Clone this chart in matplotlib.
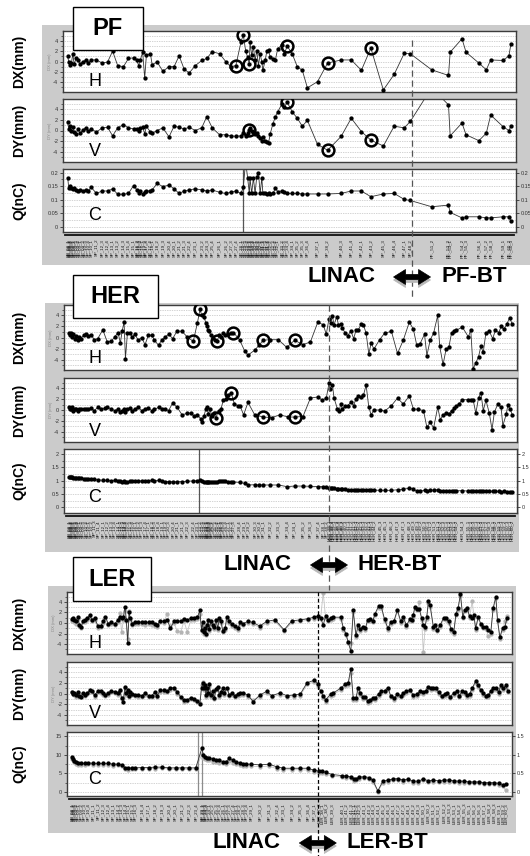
import matplotlib
matplotlib.use("Agg")
import numpy as np
import matplotlib.pyplot as plt
from matplotlib.patches import Rectangle, Polygon
from matplotlib.lines import Line2D
from matplotlib.ticker import FuncFormatter
from matplotlib.transforms import blended_transform_factory

plt.rcParams['font.family'] = ['Liberation Sans', 'DejaVu Sans']
plt.rcParams['axes.unicode_minus'] = False

W, H = 530, 856

# ---------------- PF ----------------
pf_s = [200, 203, 207, 211, 215, 219, 225, 230, 236, 245,
        253, 260, 270, 285, 302, 318, 333, 348, 365, 380,
        395, 405, 410, 415, 422, 428, 433, 445, 450, 465,
        482, 500, 515, 530, 545, 560, 578, 597, 612, 628,
        650, 668, 683, 698, 713, 720, 727, 733, 738, 740,
        745, 750, 755, 760, 765, 770, 775, 778, 785, 790,
        795, 800, 808, 815, 822, 835, 842, 850, 865, 880,
        895, 910, 940, 970, 1010, 1040, 1070, 1098, 1135, 1167,
        1197, 1215, 1278, 1328, 1333, 1368, 1380, 1418, 1440, 1453,
        1490, 1507, 1513]
pf_dx = [1.0, -0.1, -0.6, -0.3, 1.5, -0.5, 0.6, 0.3, -0.5, 0.0,
         0.2, -0.2, 0.3, 0.3, -0.3, -0.1, 2.0, -0.8, -1.0, 0.6,
         0.7, 0.2, -0.8, 0.3, 1.8, -3.2, 1.2, 1.5, -0.6, -0.1,
         -1.9, -1.0, -1.0, 1.1, -1.5, -2.2, -0.8, 0.2, 0.6, 1.9,
         1.5, 0.0, -1.0, -0.8, 3.7, 5.2, 2.1, 0.8, -0.5, 3.7,
         1.2, 2.8, 0.3, 2.1, -0.8, 1.5, -0.1, -1.7, 0.2, 2.1,
         2.2, 0.8, 0.5, 0.2, 2.5, 3.2, 1.5, 3.0, 1.5, -1.0,
         -1.7, -5.1, -3.9, -0.3, 0.3, 0.3, -1.7, 2.6, -5.5, -2.5,
         1.6, 1.5, -1.6, -2.7, 1.8, 4.4, 1.8, -0.3, -1.6, 0.3,
         0.2, 1.1, 3.4]
pf_dy = [1.5, 0.3, 0.8, 0.0, 0.6, -0.3, -0.6, 0.3, -0.5, 0.1,
         0.5, -0.1, 0.3, -0.3, 0.5, 0.6, -1.0, 0.5, 1.1, 0.5,
         0.3, 0.2, 0.0, 0.4, 0.6, -0.6, 0.8, -0.3, -0.5, 0.0,
         0.5, -1.2, 0.8, 0.6, 0.3, 0.6, 0.0, 0.5, 2.6, 0.5,
         -0.8, -0.8, -1.0, -1.1, -1.0, -0.5, -1.0, -0.5, 0.1, 0.5,
         0.0, -0.3, -0.6, -0.5, -1.0, -1.4, -1.9, -1.3, -1.9, -2.1,
         -2.3, -0.6, 1.3, 2.5, 3.5, 5.0, 4.4, 5.3, 3.5, 2.3,
         0.8, 1.9, -2.6, -3.7, -1.1, 2.3, -0.2, -1.8, -2.9, 0.8,
         0.5, 1.7, 8.0, 4.8, -1.0, 1.4, -0.8, -1.9, -0.5, 2.9,
         0.7, 0.0, 0.8]
pf_q = [0.181, 0.142, 0.152, 0.144, 0.140, 0.142, 0.136, 0.132, 0.136, 0.132,
        0.136, 0.132, 0.145, 0.123, 0.132, 0.132, 0.140, 0.120, 0.120, 0.123,
        0.152, 0.136, 0.123, 0.132, 0.120, 0.130, 0.132, 0.132, 0.136, 0.160,
        0.148, 0.154, 0.140, 0.123, 0.132, 0.136, 0.140, 0.136, 0.132, 0.136,
        0.127, 0.123, 0.127, 0.132, 0.123, 0.145, 0.240, 0.180, 0.123, 0.180,
        0.123, 0.181, 0.123, 0.185, 0.200, 0.123, 0.181, 0.125, 0.123, 0.120,
        0.123, 0.120, 0.123, 0.142, 0.130, 0.132, 0.127, 0.123, 0.123, 0.123,
        0.121, 0.121, 0.121, 0.121, 0.123, 0.132, 0.132, 0.111, 0.121, 0.123,
        0.101, 0.097, 0.074, 0.080, 0.053, 0.033, 0.037, 0.037, 0.033, 0.033,
        0.037, 0.037, 0.021]
pf_ring_dx = [698, 720, 738, 850, 970, 1098]
pf_ring_dy = [738, 850, 970, 1098]

# ---------------- HER ----------------
her_s_dx = [205, 208, 212, 215, 218, 222, 226, 230, 235, 240,
            248, 255, 262, 270, 280, 290, 305, 318, 330, 340,
            350, 357, 362, 368, 372, 378, 385, 392, 400, 410,
            420, 430, 440, 450, 458, 470, 480, 490, 500, 512,
            525, 540, 555, 573, 585, 593, 598, 605, 610, 613,
            616, 620, 625, 630, 637, 643, 650, 655, 660, 667,
            675, 685, 692, 710, 725, 735, 755, 768, 780, 800,
            825, 850, 873, 898, 920, 942, 958, 967, 975, 980,
            985, 990, 998, 1003, 1010, 1015, 1022, 1030, 1040, 1048,
            1055, 1062, 1070, 1077, 1085, 1093, 1100, 1108, 1125, 1140,
            1160, 1178, 1195, 1213, 1225, 1235, 1245, 1258, 1265, 1275,
            1285, 1297, 1303, 1313, 1322, 1330, 1338, 1346, 1352, 1370,
            1388, 1395, 1402, 1410, 1418, 1425, 1432, 1440, 1450, 1460,
            1468, 1478, 1485, 1493, 1502, 1510, 1518]
her_dx = [0.8, 0.4, 0.9, 0.1, 0.6, -0.3, 0.3, -0.4, 0.1, -0.2,
          0.4, 0.6, 0.3, 0.5, -0.4, -0.2, 1.4, -0.8, -0.7, 0.1,
          0.9, -1.0, 1.1, 2.8, -3.9, 0.9, 0.8, 0.1, 0.6, -0.5,
          0.0, -1.3, 0.4, 0.4, -0.5, -1.4, -0.4, 0.1, 0.6, -0.2,
          1.2, 1.1, 0.1, -0.7, 2.6, 5.1, 4.0, 3.8, 2.6, 2.1,
          1.4, 1.1, 0.4, 0.0, -0.4, -0.7, 0.4, 0.1, 0.8, 0.4,
          0.6, 0.9, 0.9, -0.4, -2.4, -3.2, -2.3, -1.4, -0.5, -0.4,
          -0.4, -1.8, -0.5, -1.3, -0.8, 2.8, 2.3, 0.6, 3.4, 2.6,
          3.9, 2.3, 3.8, 2.3, 2.4, 1.7, 0.9, 0.3, 1.2, -0.2,
          1.3, 1.4, 2.4, 2.3, 0.8, -3.0, -1.0, -2.1, -0.4, 0.8,
          1.1, -2.9, -0.5, 2.8, 1.5, -1.4, -1.1, 0.6, -3.3, -0.4,
          0.8, 4.0, -1.6, -4.9, -2.1, -1.8, 0.8, 1.1, 1.3, 1.9,
          0.1, 1.4, -5.7, -4.6, -3.5, -1.6, -2.7, 0.9, 1.1, -0.2,
          1.3, 0.9, 2.0, 1.5, 2.4, 3.6, 2.4]
her_q = [1.15, 1.14, 1.13, 1.14, 1.12, 1.11, 1.12, 1.10, 1.11, 1.09,
         1.08, 1.07, 1.06, 1.05, 1.05, 1.03, 1.02, 1.01, 1.00, 1.01,
         0.99, 0.98, 0.97, 0.98, 0.94, 0.97, 0.98, 0.99, 1.00, 1.00,
         0.99, 1.00, 1.00, 1.01, 1.00, 1.01, 0.99, 0.96, 0.97, 0.96,
         0.96, 0.97, 0.98, 0.99, 1.00, 1.01, 0.98, 0.96, 0.95, 0.95,
         0.94, 0.95, 0.94, 0.95, 0.96, 0.97, 0.99, 1.00, 0.99, 0.98,
         0.97, 0.96, 0.95, 0.94, 0.90, 0.84, 0.85, 0.84, 0.84, 0.84,
         0.84, 0.78, 0.80, 0.80, 0.79, 0.78, 0.78, 0.77, 0.74, 0.72,
         0.71, 0.72, 0.70, 0.69, 0.70, 0.68, 0.69, 0.67, 0.66, 0.65,
         0.65, 0.66, 0.66, 0.65, 0.64, 0.66, 0.64, 0.65, 0.64, 0.64,
         0.64, 0.66, 0.68, 0.72, 0.70, 0.60, 0.61, 0.64, 0.63, 0.64,
         0.65, 0.66, 0.63, 0.62, 0.62, 0.63, 0.62, 0.61, 0.62, 0.63,
         0.61, 0.62, 0.61, 0.60, 0.61, 0.60, 0.61, 0.60, 0.61, 0.60,
         0.60, 0.60, 0.59, 0.60, 0.59, 0.59, 0.58]
her_s_dy = [205, 208, 212, 215, 218, 222, 226, 230, 235, 240,
            248, 255, 262, 270, 280, 290, 300, 310, 318, 330,
            340, 350, 357, 362, 368, 372, 378, 385, 392, 400,
            410, 420, 430, 440, 450, 458, 470, 480, 490, 500,
            512, 525, 540, 555, 565, 575, 585, 595, 600, 605,
            610, 613, 618, 622, 628, 633, 640, 648, 655, 662,
            670, 677, 685, 695, 705, 712, 722, 735, 755, 780,
            805, 830, 855, 873, 898, 920, 942, 955, 967, 975,
            978, 985, 990, 1000, 1005, 1010, 1015, 1022, 1030, 1040,
            1048, 1055, 1062, 1070, 1077, 1085, 1093, 1100, 1108, 1125,
            1140, 1160, 1178, 1195, 1213, 1225, 1240, 1255, 1265, 1275,
            1285, 1297, 1305, 1313, 1322, 1330, 1338, 1346, 1352, 1360,
            1370, 1388, 1395, 1402, 1410, 1418, 1425, 1432, 1440, 1450,
            1458, 1465, 1475, 1485, 1490, 1500, 1505, 1512, 1518]
her_dy = [0.5, 0.2, 0.1, 0.5, -0.1, 0.2, 0.1, -0.1, 0.1, 0.2,
          0.2, 0.1, 0.2, 0.3, -0.1, 0.5, 0.1, 0.3, 0.5, 0.2,
          -0.1, 0.1, -0.4, -0.1, 0.2, -0.3, 0.2, 0.3, -0.1, 0.2,
          0.5, -0.1, 0.2, 0.3, -0.1, 0.1, 0.5, 0.2, 0.1, -0.1,
          1.3, 0.5, -0.9, -0.6, -0.6, -1.1, -0.9, -1.6, -2.2, -1.1,
          0.2, 0.5, -0.8, 0.2, -1.1, -0.6, -1.4, -0.1, 0.2, 1.8,
          2.1, 2.7, 3.2, 1.1, 0.8, 0.7, -0.9, 1.4, -0.9, -1.3,
          -1.4, -0.9, -1.3, -1.3, -1.2, 2.2, 2.4, 1.8, 2.2, 4.9,
          3.9, 4.7, 2.2, 0.2, -0.1, 1.1, 0.2, 0.7, 0.8, 1.4,
          0.8, 2.1, 2.6, 2.4, 2.7, 4.6, 0.5, -0.9, 0.0, 0.0,
          -0.2, 0.8, 2.2, 1.1, 2.6, 0.2, 0.1, -0.1, -3.2, -2.3,
          -3.3, 0.5, -1.8, -0.9, -0.6, -0.8, -0.1, 0.3, 0.7, 1.1,
          1.9, 1.9, 1.8, 1.9, -0.6, 2.2, 3.2, -0.1, 1.8, -0.6,
          -3.6, -0.4, 1.1, 0.5, -2.9, -0.8, 0.9, 0.1, -0.9]
her_ring_dx = [573, 593, 643, 692, 780, 873]
her_ring_dy = [640, 685, 780, 873]

# ---------------- LER ----------------
ler_s_dx = [212, 216, 220, 225, 230, 235, 240, 245, 250, 258,
            265, 272, 280, 290, 298, 305, 312, 320, 330, 340,
            348, 355, 360, 365, 370, 374, 378, 382, 386, 392,
            400, 410, 420, 430, 440, 450, 458, 465, 475, 485,
            495, 505, 515, 525, 535, 545, 555, 565, 575, 585,
            592, 597, 600, 603, 607, 610, 613, 617, 620, 625,
            630, 635, 640, 645, 650, 655, 660, 667, 672, 680,
            687, 695, 705, 712, 720, 735, 750, 770, 790, 815,
            842, 865, 890, 912, 930, 942, 950, 958, 965, 972,
            980, 988, 1010, 1018, 1025, 1032, 1040, 1047, 1055, 1062,
            1068, 1075, 1083, 1090, 1098, 1105, 1112, 1122, 1130, 1140,
            1150, 1158, 1168, 1178, 1188, 1195, 1205, 1215, 1220, 1225,
            1230, 1237, 1243, 1250, 1255, 1260, 1265, 1270, 1275, 1285,
            1290, 1297, 1305, 1315, 1322, 1330, 1338, 1345, 1352, 1358,
            1365, 1372, 1378, 1385, 1392, 1400, 1405, 1410, 1418, 1425,
            1432, 1440, 1448, 1455, 1462, 1470, 1475, 1482, 1490, 1497,
            1503]
ler_dx = [0.7, 0.9, 0.6, 0.3, 1.2, -0.4, -0.8, 0.3, 0.6, 0.9,
          1.5, 0.6, 0.9, -0.6, -0.6, 0.3, 1.2, -0.1, 0.1, -0.2,
          0.6, 1.2, 0.9, 1.1, 3.1, 0.6, -3.9, 2.0, 0.9, -0.1,
          0.2, 0.1, 0.2, 0.1, 0.1, 0.1, -0.1, -0.4, 0.4, 0.3,
          0.6, -1.0, 0.3, 0.3, 0.4, 0.7, 0.6, 0.9, 0.9, 1.1,
          2.4, -1.3, 0.1, -1.7, -1.0, -2.0, -0.4, 0.6, -1.2, 0.3,
          -0.4, -0.8, 0.6, -1.0, 0.9, 0.3, -1.5, -1.0, 1.1, 0.3,
          -0.2, -0.6, -1.0, 0.1, -0.1, 0.3, 0.1, -0.6, 0.3, 0.6,
          -1.3, 0.4, 0.6, 0.8, 1.1, 1.3, 1.0, -0.4, 1.3, 0.6,
          0.9, 1.1, 1.1, -1.0, -2.0, -3.6, -5.4, 2.4, -2.3, -0.4,
          -1.2, -0.7, -1.0, 0.6, 0.7, 0.4, 1.8, 3.2, 3.2, 0.7,
          -1.0, 0.1, 0.4, 2.5, 0.3, 1.1, -0.4, 0.7, 0.6, 1.5,
          3.1, 2.7, 2.6, 0.9, -0.4, -0.8, 1.1, 4.1, 3.4, -0.8,
          -0.4, -1.3, -0.4, 1.0, 0.9, 0.3, -1.2, -1.8, 1.8, 2.8,
          5.5, 1.2, 2.5, 2.8, 1.3, 0.9, 1.5, -1.0, 1.2, -0.1,
          -0.7, -0.8, -1.3, -1.8, 2.8, 5.0, 0.6, -2.7, -1.0, -0.7,
          0.9]
ler_dx_2 = [0.3, 0.5, 0.2, -0.1, 0.8, -0.6, -1.0, 0.1, 0.2, 0.5,
            1.0, 0.3, 0.6, -0.9, -0.8, 0.0, 0.9, -0.4, -0.2, -0.4,
            0.2, 1.9, -1.8, 0.5, 2.2, 0.3, -3.0, 2.2, 0.5, -0.4,
            -0.1, -0.2, -0.1, -0.3, -0.2, -0.3, -0.5, -0.7, 0.1, 0.0,
            1.8, -0.5, 0.0, -1.5, -1.7, 0.3, -1.7, 0.5, 0.5, 0.8,
            1.8, -1.6, -0.3, -2.0, -1.3, -2.2, -0.8, 0.2, -1.5, 0.0,
            -0.7, -1.1, 0.3, -1.3, 0.6, 0.0, -1.8, -1.3, 0.8, 0.0,
            -0.5, -0.9, -1.3, -0.2, -0.4, 0.0, -0.2, -0.9, 0.0, 0.3,
            -1.5, 0.1, 0.3, 0.5, 0.8, 1.0, 0.7, 5.8, 1.0, 0.3,
            0.6, 0.8, 0.8, -1.3, -2.3, -3.8, -3.9, 2.0, -2.6, -0.7,
            -1.5, -1.0, -1.3, 0.3, 0.4, 0.1, 1.5, 2.9, 2.9, 0.4,
            -1.3, -0.2, 0.1, 2.2, 0.0, 0.8, -0.7, 0.4, 0.3, 1.2,
            2.8, 2.4, 4.0, 0.6, -5.6, -1.1, 0.8, 3.8, 3.1, -1.1,
            -0.7, -1.6, -0.7, 0.7, 0.6, 0.0, -1.5, -2.1, 1.5, 2.5,
            5.2, 0.9, 2.2, 2.5, 1.0, 4.2, 1.2, -1.3, 0.9, -0.4,
            -1.0, -1.1, -2.5, -2.1, 2.5, 4.7, 0.3, -3.0, -1.3, 0.3,
            1.3]
ler_s_dy = [212, 216, 220, 225, 230, 235, 240, 245, 250, 258,
            265, 272, 280, 290, 298, 305, 312, 320, 330, 340,
            348, 355, 360, 365, 370, 374, 378, 382, 386, 392,
            400, 410, 420, 430, 440, 450, 458, 465, 475, 485,
            495, 505, 515, 525, 535, 545, 555, 565, 575, 585,
            592, 597, 600, 603, 607, 610, 613, 617, 620, 625,
            630, 635, 640, 645, 650, 655, 660, 665, 672, 680,
            687, 695, 705, 712, 720, 735, 750, 770, 790, 805,
            830, 850, 870, 890, 910, 932, 942, 950, 958, 965,
            980, 988, 1010, 1022, 1032, 1040, 1047, 1055, 1062, 1068,
            1075, 1083, 1090, 1098, 1105, 1112, 1122, 1130, 1140, 1150,
            1158, 1168, 1178, 1188, 1195, 1205, 1215, 1225, 1235, 1245,
            1255, 1262, 1270, 1278, 1285, 1292, 1300, 1310, 1318, 1325,
            1335, 1345, 1355, 1362, 1370, 1378, 1385, 1392, 1400, 1410,
            1418, 1425, 1432, 1440, 1448, 1455, 1462, 1470, 1478, 1485,
            1492, 1500, 1505]
ler_dy = [0.2, -0.1, 0.1, -0.3, 0.3, -0.4, -0.6, 0.1, -0.3, 0.1,
          0.6, 0.4, -0.3, 0.5, 0.4, 0.1, -0.3, 0.1, 0.5, 0.3,
          0.1, 0.7, -0.9, -1.5, 1.3, 0.1, 0.7, -0.4, 0.3, -0.1,
          -0.3, -0.3, -0.4, 0.1, -0.4, -0.4, 0.3, -0.4, 0.6, 0.6,
          0.5, 1.0, 1.1, 0.3, -0.6, -1.3, -1.2, -0.8, -1.0, -1.4,
          -2.0, 1.0, 2.0, 1.0, 1.5, -0.3, 1.0, 0.1, 1.7, -0.3,
          0.5, -0.9, 0.9, 1.3, -0.3, 0.3, 1.0, 0.1, 1.1, -0.3,
          0.1, -0.4, -0.1, 0.1, 0.1, -0.3, -1.5, -0.3, 0.4, -0.4,
          0.1, -0.4, -0.3, -0.1, 2.0, 2.5, 1.8, 0.5, -0.4, -1.2,
          -0.1, 0.1, 1.0, 1.7, 2.0, 4.6, -0.8, -0.8, 1.1, 0.1,
          -0.6, -0.6, -1.4, -1.2, -0.9, -0.8, -0.1, 0.4, 0.5, 1.1,
          -0.4, -0.9, -0.1, -0.4, 0.1, 0.4, 0.7, -0.3, -0.1, 0.4,
          0.3, 0.5, 1.3, 1.0, 1.1, 1.0, 0.3, -0.4, -0.1, 0.1,
          -0.6, 0.1, 0.4, -0.4, 0.4, 0.2, -0.3, -0.1, 1.0, 2.3,
          1.5, 0.7, 0.1, -0.4, -0.3, 0.5, 1.0, 1.0, 0.3, 1.5,
          1.0, 1.5, 0.5]
ler_dy_2 = [0.3, 0.1, -0.3, -0.6, 0.1, -0.7, -0.2, -0.2, -0.5, -0.1,
            0.3, 0.2, -0.6, 0.2, 0.1, -0.3, -0.5, -0.2, 0.2, 0.1,
            -0.2, 0.4, -1.1, -0.8, 1.0, -0.3, 0.3, -0.7, 0.0, -0.3,
            -0.5, -0.6, -0.7, -0.2, -0.6, -0.7, 0.0, -0.6, 0.3, 0.3,
            0.2, 0.7, 0.8, 0.0, -0.9, -1.5, -1.4, -1.0, -1.3, -1.6,
            -1.7, 1.6, 2.2, 0.6, 1.2, -0.6, 0.7, -0.2, 1.4, -0.6,
            0.2, -1.1, 0.6, 1.0, -0.6, 0.0, 0.7, -0.2, 0.8, -0.5,
            -0.2, -0.6, -0.4, -0.2, -0.2, -0.6, -1.3, -0.6, 0.1, -0.7,
            -0.2, -0.7, -0.6, -0.4, 1.7, 2.2, 1.4, 0.2, -0.8, -1.5,
            -0.4, -0.2, 0.7, 1.4, 1.6, 3.8, -1.2, -1.3, 0.7, -0.3,
            -1.0, -0.9, -1.8, -1.5, -1.1, -1.2, -0.4, 0.1, 0.2, 0.8,
            -0.7, -1.2, -0.4, -0.7, -0.2, 0.1, 0.4, -0.6, -0.4, 0.1,
            0.0, 0.2, 1.0, 0.6, 0.8, 0.7, 0.0, -0.7, -0.4, -0.2,
            -0.9, -0.2, 0.1, -0.7, 0.1, -0.1, -0.6, -0.4, 0.7, 2.0,
            1.2, 0.4, -0.2, -0.7, -0.6, 0.2, 0.7, 0.7, 0.0, 1.2,
            0.7, 1.2, 0.2]
ler_s_q = [212, 215, 220, 225, 230, 240, 250, 260, 275, 290,
           305, 320, 335, 350, 360, 370, 380, 390, 400, 420,
           440, 460, 480, 500, 520, 540, 560, 580, 598, 602,
           607, 612, 620, 630, 640, 650, 660, 670, 680, 690,
           700, 710, 720, 730, 745, 770, 797, 820, 840, 865,
           890, 912, 930, 945, 955, 965, 985, 1015, 1025, 1040,
           1048, 1055, 1065, 1080, 1095, 1105, 1120, 1135, 1150, 1165,
           1180, 1195, 1210, 1225, 1240, 1255, 1270, 1285, 1300, 1315,
           1330, 1345, 1360, 1375, 1390, 1405, 1420, 1435, 1450, 1465,
           1480, 1490, 1500]
ler_q = [9.5, 8.9, 8.4, 8.0, 7.7, 7.7, 7.7, 7.9, 7.7, 7.7,
         7.7, 7.7, 7.5, 7.5, 7.3, 6.6, 6.4, 6.5, 6.5, 6.6,
         6.6, 6.7, 6.7, 6.5, 6.5, 6.5, 6.5, 6.5, 11.8, 10.0,
         9.5, 9.3, 9.1, 8.9, 8.6, 8.5, 8.2, 8.2, 9.1, 8.5,
         8.2, 7.7, 7.5, 7.5, 7.5, 7.3, 7.5, 6.8, 6.4, 6.4,
         6.4, 6.4, 5.9, 5.6, 5.6, 5.3, 4.7, 4.4, 4.3, 4.1,
         3.5, 3.6, 4.0, 4.1, 3.9, 3.2, 0.3, 2.9, 3.2, 3.5,
         3.6, 3.2, 3.5, 2.9, 2.9, 3.5, 3.0, 3.2, 3.0, 3.2,
         3.2, 3.0, 2.9, 2.9, 2.7, 2.7, 2.7, 2.5, 2.5, 2.5,
         2.3, 2.0, 2.1]
ler_q_2 = [9.0, 8.5, 8.0, 7.6, 7.4, 7.3, 7.4, 7.5, 7.3, 7.4,
           7.3, 7.4, 7.1, 7.2, 6.9, 6.2, 6.0, 6.1, 6.2, 6.2,
           6.3, 6.3, 6.4, 6.2, 6.1, 6.2, 6.1, 6.2, 10.2, 9.2,
           8.8, 8.6, 8.5, 8.2, 8.0, 7.9, 7.7, 7.6, 8.4, 7.9,
           7.6, 7.2, 7.0, 7.0, 7.0, 6.8, 7.0, 6.3, 6.0, 6.0,
           6.0, 5.9, 5.5, 5.2, 5.2, 4.9, 4.3, 4.0, 3.9, 3.7,
           3.0, 3.1, 3.6, 3.7, 3.5, 2.8, 0.1, 2.5, 2.8, 3.1,
           3.2, 2.8, 3.1, 2.5, 2.5, 3.1, 2.6, 2.8, 2.6, 2.8,
           2.8, 2.6, 2.5, 2.5, 2.3, 2.3, 2.3, 2.1, 2.1, 2.1,
           1.9, 1.6, 0.4]

# boundary LINAC / BT
pf_cut, her_cut, ler_cut = 1220, 975, 942


def bpm_names(s_list, cut, bt):
    names = []
    for i, s in enumerate(s_list):
        if s < cut:
            names.append("SP_%02d_%d" % (s // 25, i % 4 + 1))
        else:
            names.append("%s_%02d_%d" % (bt, s // 25, i % 3 + 1))
    return names


fig = plt.figure(figsize=(W / 100, H / 100), dpi=100)


def frect(x0, y0, x1, y1):
    return [x0 / W, 1 - y1 / H, (x1 - x0) / W, (y1 - y0) / H]


def draw_series(ax, s, v, col='black', lcol='#333333', z=3):
    ax.plot(s, v, '-', color=lcol, lw=0.6, zorder=z)
    ax.plot(s, v, 'o', color=col, ms=3.1, mew=0, zorder=z + 0.1)


def rings(ax, s, v, where):
    ys = [v[s.index(w)] for w in where]
    ax.plot(where, ys, 'o', mfc='none', mec='black', ms=8.5, mew=1.8, zorder=6)


def frame(ax):
    for sp in ax.spines.values():
        sp.set_color('#3c3c3c')
        sp.set_linewidth(1.0)
    ax.tick_params(axis='y', which='major', labelsize=4, length=2.5, width=0.6,
                   pad=1, colors='#333333')
    ax.tick_params(axis='y', which='minor', length=1.4, width=0.5, colors='#333333')


def orbit_axes(ax, xlim, ylab):
    ax.set_xlim(*xlim)
    ax.set_ylim(-5.9, 5.9)
    ax.set_yticks([-4, -2, 0, 2, 4])
    ax.set_yticks(range(-5, 6), minor=True)
    ax.grid(axis='y', which='both', color='#a8a8a8', lw=0.5, ls=(0, (1, 1.5)))
    ax.set_axisbelow(True)
    ax.tick_params(axis='x', bottom=False, labelbottom=False)
    ax.set_ylabel(ylab, fontsize=3, color='#888888', labelpad=1)
    frame(ax)


fmt = FuncFormatter(lambda v, p: "%g" % round(v, 3))


def q_axes(ax, xlim, ylim, major, minor, right_scale):
    ax.set_xlim(*xlim)
    ax.set_ylim(*ylim)
    ax.set_yticks(major)
    ax.set_yticks(minor, minor=True)
    ax.yaxis.set_major_formatter(fmt)
    ax.grid(axis='y', which='both', color='#a8a8a8', lw=0.5, ls=(0, (1, 1.5)))
    ax.set_axisbelow(True)
    frame(ax)
    ax2 = ax.twinx()
    ax2.set_ylim(ylim[0] * right_scale, ylim[1] * right_scale)
    ax2.set_yticks([m * right_scale for m in major])
    ax2.yaxis.set_major_formatter(fmt)
    ax2.tick_params(axis='y', labelsize=4, length=2.5, width=0.6, pad=1, colors='#333333')
    for sp in ax2.spines.values():
        sp.set_visible(False)


def double_arrow(xc, yc, col, z):
    # pixel outline of the <-> marker, centred on the boundary line
    tip, base, head, shaft = 18.5, 6.5, 7.5, 2.6
    pts = [(-tip, 0), (-base, head), (-base, shaft), (base, shaft), (base, head),
           (tip, 0), (base, -head), (base, -shaft), (-base, -shaft), (-base, -head)]
    xy = [((xc + dx) / W, yc + dy / H) for dx, dy in pts]
    fig.patches.append(Polygon(xy, closed=True, transform=fig.transFigure,
                               fc=col, ec=col, lw=0.5, zorder=z))


panels = [
    dict(name='PF', bt='PF-BT', gray=(42, 25, 530, 265), box=(73, 7, 143, 50),
         left=63, right=516, rows=[(31, 92), (99, 162), (169, 232)],
         text_y=277, dash=(40, 300), dash_col='#555555', dash_ls=(0, (5, 3)),
         xlim=(186, 1528), cut=pf_cut,
         s_dx=pf_s, dx=pf_dx, s_dy=pf_s, dy=pf_dy, s_q=pf_s, q=pf_q,
         qlim=(-0.019, 0.213), qmajor=[0, 0.05, 0.1, 0.15, 0.2],
         qminor=np.arange(0, 0.21, 0.025), qscale=1.0, qline=[720],
         ring_dx=pf_ring_dx, ring_dy=pf_ring_dy),
    dict(name='HER', bt='HER-BT', gray=(45, 303, 519, 552), box=(73, 275, 158, 318),
         left=64, right=517, rows=[(305, 370), (378, 442), (449, 513)],
         text_y=565, dash=(305, 590), dash_col='#555555', dash_ls=(0, (5, 3)),
         xlim=(190, 1532), cut=her_cut,
         s_dx=her_s_dx, dx=her_dx, s_dy=her_s_dy, dy=her_dy, s_q=her_s_dx, q=her_q,
         qlim=(-0.21, 2.19), qmajor=[0, 0.5, 1, 1.5, 2],
         qminor=np.arange(0, 2.01, 0.25), qscale=1.0, qline=[590],
         ring_dx=her_ring_dx, ring_dy=her_ring_dy),
    dict(name='LER', bt='LER-BT', gray=(48, 586, 516, 833), box=(73, 557, 151, 601),
         left=67, right=512, rows=[(592, 654), (662, 725), (732, 796)],
         text_y=843, dash=(592, 856), dash_col='black', dash_ls=(0, (3, 2)),
         xlim=(198, 1518), cut=ler_cut,
         s_dx=ler_s_dx, dx=ler_dx, s_dy=ler_s_dy, dy=ler_dy, s_q=ler_s_q, q=ler_q,
         dx2=ler_dx_2, dy2=ler_dy_2, q2=ler_q_2,
         qlim=(-1.1, 16.2), qmajor=[0, 5, 10, 15],
         qminor=np.arange(0, 15.1, 2.5), qscale=0.1, qline=[588, 598],
         ring_dx=[], ring_dy=[]),
]

for p in panels:
    # grey panel background and name box
    gx0, gy0, gx1, gy1 = p['gray']
    fig.patches.append(Rectangle((gx0 / W, 1 - gy1 / H), (gx1 - gx0) / W, (gy1 - gy0) / H,
                                 transform=fig.transFigure, fc='#cbcbcb', ec='none', zorder=-5))
    bx0, by0, bx1, by1 = p['box']
    fig.patches.append(Rectangle((bx0 / W, 1 - by1 / H), (bx1 - bx0) / W, (by1 - by0) / H,
                                 transform=fig.transFigure, fc='white', ec='black', lw=1.0, zorder=8))
    fig.text((bx0 + bx1) / 2 / W, 1 - (by0 + by1) / 2 / H, p['name'], ha='center', va='center',
             fontsize=17, fontweight='bold', zorder=9)

    axes = []
    for (y0, y1) in p['rows']:
        axes.append(fig.add_axes(frect(p['left'], y0, p['right'], y1)))
    ax_dx, ax_dy, ax_q = axes
    orbit_axes(ax_dx, p['xlim'], 'DX (mm)')
    orbit_axes(ax_dy, p['xlim'], 'DY (mm)')
    q_axes(ax_q, p['xlim'], p['qlim'], p['qmajor'], p['qminor'], p['qscale'])

    if 'dx2' in p:
        draw_series(ax_dx, p['s_dx'], p['dx2'], col='#b4b4b4', lcol='#c4c4c4', z=2)
        draw_series(ax_dy, p['s_dy'], p['dy2'], col='#b4b4b4', lcol='#c4c4c4', z=2)
        draw_series(ax_q, p['s_q'], p['q2'], col='#b4b4b4', lcol='#c4c4c4', z=2)
    draw_series(ax_dx, p['s_dx'], p['dx'])
    draw_series(ax_dy, p['s_dy'], p['dy'])
    draw_series(ax_q, p['s_q'], p['q'])
    rings(ax_dx, p['s_dx'], p['dx'], p['ring_dx'])
    rings(ax_dy, p['s_dy'], p['dy'], p['ring_dy'])
    for xl in p['qline']:
        ax_q.axvline(xl, color='#555555' if p['name'] != 'LER' else '#8c8c8c', lw=0.9, zorder=2)

    # BPM names below the charge plot
    ax_q.set_xticks(p['s_q'])
    ax_q.set_xticklabels(bpm_names(p['s_q'], p['cut'], p['bt'][:3]), rotation=90,
                         fontsize=3.2, color='#111111')
    ax_q.tick_params(axis='x', length=0, pad=5)
    yb = 1 - (p['rows'][2][1] + 3) / H
    fig.add_artist(Line2D([(p['left'] + 2) / W, (p['right'] - 2) / W], [yb, yb],
                          transform=fig.transFigure, color='#111111', lw=1.3))

    # H / V / C tags
    for ax, tag, (y0, y1), off in zip(axes, 'HVC', p['rows'], (11, 11, 16)):
        ax.text((95 - p['left']) / (p['right'] - p['left']), off / (y1 - y0), tag,
                transform=ax.transAxes, ha='center', va='center', fontsize=13, zorder=7)

    # left labels
    for tag, (y0, y1) in zip(['DX(mm)', 'DY(mm)', 'Q(nC)'], p['rows']):
        fig.text(19 / W, 1 - (y0 + y1) / 2 / H, tag, rotation=90, ha='center', va='center',
                 fontsize=10, fontweight='bold')

    # LINAC / BT boundary
    tr = blended_transform_factory(ax_dx.transData, fig.transFigure)
    fig.add_artist(Line2D([p['cut'], p['cut']], [1 - p['dash'][0] / H, 1 - p['dash'][1] / H],
                          transform=tr, color=p['dash_col'], lw=0.9, ls=p['dash_ls'], zorder=10))
    xc = ax_dx.transData.transform((p['cut'], 0))[0]
    ty = 1 - p['text_y'] / H
    fig.text((xc - 37) / W, ty, 'LINAC', ha='right', va='center', fontsize=16, fontweight='bold')
    fig.text((xc + 29) / W, ty, p['bt'], ha='left', va='center', fontsize=16, fontweight='bold')
    double_arrow(xc, ty - 3 / H, '#b8b8b8', 10.5)
    double_arrow(xc, ty, 'black', 11)

fig.savefig('out.png', dpi=100)
